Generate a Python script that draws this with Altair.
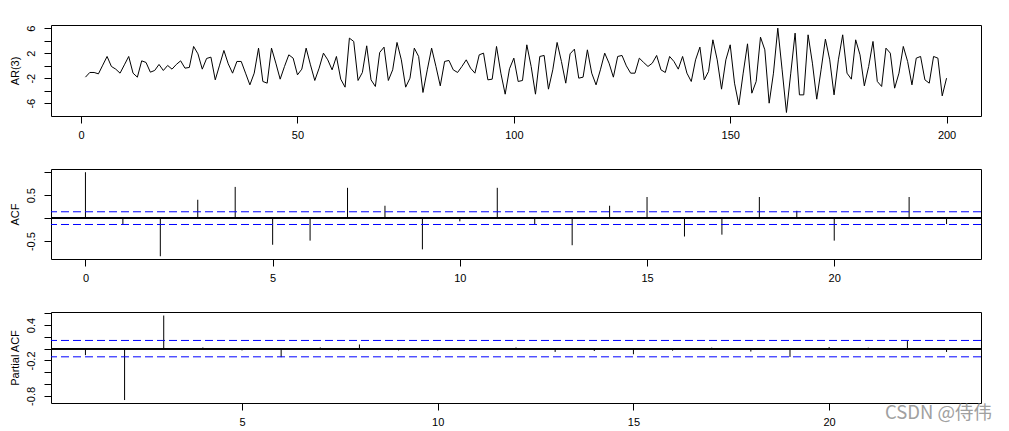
import json
import altair as alt
import pandas as pd

# ---------------- data ----------------
time_index = list(range(1, 201))
ar3_values = [
    -1.84, -1.09, -1.09, -1.31, 0.08, 1.47, -0.13, -0.56, -1.2, 0.13,
    1.47, -1.2, -1.84, 0.77, 0.51, -1.04, -0.77, 0.19, -0.77, 0.03,
    -0.56, 0.19, 0.77, -0.4, -0.29, 3.07, 1.89, -0.56, 1.15, 1.36,
    -2.27, 0.08, 2.43, 0.29, -1.2, 0.67, 0.67, -1.2, -3.07, -1.2,
    2.8, -2.53, -2.8, 2.8, 0.4, -2.16, -0.13, 1.73, 1.2, -1.47,
    -0.56, 2.8, 0.13, -2.37, -0.4, 2.0, 0.93, -0.67, 1.47, -2.16,
    -3.44, 4.4, 3.87, -2.37, -1.09, 3.17, -2.27, -3.33, 2.11, 2.96,
    -2.37, -0.67, 3.71, 0.93, -3.44, -2.0, 2.8, 1.47, -4.29, -0.67,
    2.8, -0.13, -3.23, 0.67, 0.83, -0.67, -1.09, -0.13, 0.93, -0.4,
    -1.2, 1.73, 2.0, -2.27, -2.16, 3.07, -1.2, -4.56, -0.5, 1.2,
    -2.53, -2.37, 3.33, -0.13, -4.56, 1.47, 1.63, -3.76, -0.67, 3.71,
    0.67, -2.8, 1.89, 2.64, -2.0, -1.84, 2.53, -1.2, -3.07, -0.67,
    2.0, 0.4, -1.84, 1.47, 1.63, -0.03, -1.2, -1.2, 1.2, 0.51,
    -0.13, 0.4, 1.63, -0.67, -1.09, 1.47, 0.67, -0.56, 1.47, -1.2,
    -2.53, 0.93, 2.96, -2.27, -0.93, 4.13, 0.93, -3.76, 0.93, 3.33,
    -2.8, -6.27, -1.2, 3.49, -4.4, -2.53, 4.56, 2.53, -6.0, -1.2,
    6.0, -0.67, -7.49, -1.2, 5.2, -4.67, -4.67, 4.93, 0.4, -5.36,
    -0.67, 4.24, 0.93, -4.67, 0.93, 4.93, -1.2, -2.16, 4.13, 1.73,
    -3.23, -0.13, 3.87, -2.53, -3.33, 2.8, 2.0, -3.6, -1.2, 3.07,
    0.67, -3.07, 1.2, 1.47, -2.27, -2.8, 1.47, 1.2, -4.83, -2.0,
]
acf_lags = list(range(0, 24))
acf_values = [1.0, -0.13, -0.83, 0.40, 0.68, -0.58, -0.49, 0.66, 0.27, -0.68,
              -0.07, 0.66, -0.13, -0.59, 0.27, 0.46, -0.40, -0.36, 0.46, 0.16,
              -0.49, 0.01, 0.46, -0.13]
pacf_lags = list(range(1, 24))
pacf_values = [-0.11, -0.87, 0.56, 0.02, -0.03, -0.145, 0.02, 0.07, -0.03, -0.03,
               0.005, 0.02, -0.056, -0.04, -0.095, -0.034, 0.017, -0.05, -0.14, 0.028,
               0.017, 0.128, -0.056]
conf_limits = [0.1386, -0.1386]

ts_x_ticks = [0, 50, 100, 150, 200]
ts_y_ticks = [-6, -4, -2, 0, 2, 4, 6]
ts_y_labels = [-6, -2, 2, 6]
acf_x_ticks = [0, 5, 10, 15, 20]
acf_y_ticks = [-0.5, 0, 0.5, 1]
acf_y_labels = [-0.5, 0.5]
pacf_x_ticks = [5, 10, 15, 20]
pacf_y_ticks = [-0.8, -0.6, -0.4, -0.2, 0, 0.2, 0.4, 0.6]
pacf_y_labels = [-0.8, -0.2, 0.4]
watermark = ["CSDN @侍伟"]

FONT = "Liberation Sans"
W = 930

ts_df = pd.DataFrame({"t": time_index, "v": ar3_values})
acf_df = pd.DataFrame({"lag": acf_lags, "v": acf_values})
pacf_df = pd.DataFrame({"lag": pacf_lags, "v": pacf_values})
clim_df = pd.DataFrame({"v": conf_limits})
wm_df = pd.DataFrame({"txt": watermark})


def xaxis(vals):
    return alt.Axis(values=vals, title=None, labelExpr="toString(datum.value)",
                    labelFlush=False, labelOverlap=False, tickCount=40)


def label_expr(labeled):
    cond = " || ".join(f"abs(datum.value - ({v})) < 1e-9" for v in labeled)
    return f"({cond}) ? toString(datum.value) : ''"


def yaxis(title, vals, labeled):
    return alt.Axis(
        title=title, values=vals, labelExpr=label_expr(labeled), tickCount=40,
        labelAngle=270, labelAlign="center", labelBaseline="alphabetic",
        labelPadding=10, titlePadding=5, labelOverlap=False, labelFlush=False,
    )


# ---- panel 1: series ----
p1 = alt.Chart(ts_df).mark_line(color="black", strokeWidth=1).encode(
    x=alt.X("t:Q", scale=alt.Scale(domain=[-6.96, 207.96], nice=False, zero=False),
            axis=xaxis(ts_x_ticks)),
    y=alt.Y("v:Q", scale=alt.Scale(domain=[-8.05, 6.5], nice=False, zero=False),
            axis=yaxis("AR(3)", ts_y_ticks, ts_y_labels)),
).properties(width=W, height=91)

# ---- panel 2: ACF ----
acf_x = alt.X("lag:Q", scale=alt.Scale(domain=[-0.92, 23.92], nice=False, zero=False),
              axis=xaxis(acf_x_ticks))
acf_y = alt.Y("v:Q", scale=alt.Scale(domain=[-0.89, 1.07], nice=False, zero=False),
              axis=yaxis("ACF", acf_y_ticks, acf_y_labels))
acf_spikes = alt.Chart(acf_df).mark_rule(color="black", strokeWidth=1).encode(
    x=acf_x, y=acf_y, y2=alt.datum(0))
acf_clim = alt.Chart(clim_df).mark_rule(color="#0000FF", strokeWidth=1, strokeDash=[8, 4]).encode(
    y=alt.Y("v:Q"))
acf_zero = alt.Chart(acf_df).mark_rule(color="black", strokeWidth=1).encode(y=alt.datum(0))
p2 = alt.layer(acf_spikes, acf_clim, acf_zero).properties(width=W, height=90)

# ---- panel 3: PACF ----
pacf_x = alt.X("lag:Q", scale=alt.Scale(domain=[0.12, 23.88], nice=False, zero=False),
               axis=xaxis(pacf_x_ticks))
pacf_y = alt.Y("v:Q", scale=alt.Scale(domain=[-0.92, 0.62], nice=False, zero=False),
               axis=yaxis("Partial ACF", pacf_y_ticks, pacf_y_labels))
pacf_spikes = alt.Chart(pacf_df).mark_rule(color="black", strokeWidth=1).encode(
    x=pacf_x, y=pacf_y, y2=alt.datum(0))
pacf_clim = alt.Chart(clim_df).mark_rule(color="#0000FF", strokeWidth=1, strokeDash=[8, 4]).encode(
    y=alt.Y("v:Q"))
pacf_zero = alt.Chart(pacf_df).mark_rule(color="black", strokeWidth=1).encode(y=alt.datum(0))
wm = alt.Chart(wm_df).mark_text(
    font="Noto Sans CJK SC", fontSize=18.5, color="#A0A0A0", align="right", baseline="alphabetic"
).encode(text="txt:N", x=alt.value(941), y=alt.value(106.5))
p3 = alt.layer(pacf_spikes, pacf_clim, pacf_zero, wm).properties(width=W, height=91)

chart = alt.vconcat(p1, p2, p3, spacing=53, bounds="flush").properties(
    padding={"left": 0, "top": 16, "right": 0, "bottom": 0}
).configure_view(
    stroke="black", strokeWidth=1
).configure_axis(
    labelFont=FONT, titleFont=FONT, labelFontSize=11, titleFontSize=11,
    labelColor="black", titleColor="black", titleFontWeight="normal",
    tickColor="black", tickSize=7, tickWidth=1, domain=False, grid=False,
    labelOverlap=False,
).configure_axisX(labelPadding=6)

chart.save("out.html", embed_options={"renderer": "svg", "actions": False})
